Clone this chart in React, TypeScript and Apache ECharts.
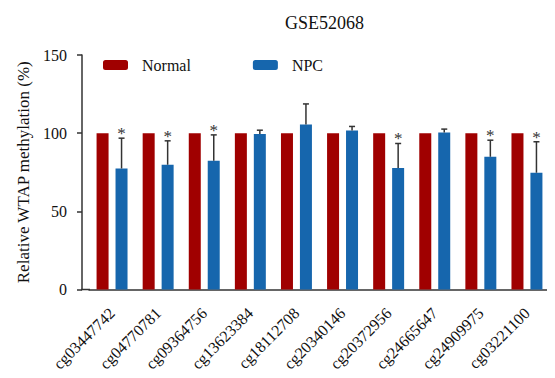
import React, { useEffect, useRef } from "react";
import * as echarts from "echarts";

const titleText = "GSE52068";
const yAxisName = "Relative WTAP methylation (%)";
const categories = [
  "cg03447742", "cg04770781", "cg09364756", "cg13623384", "cg18112708",
  "cg20340146", "cg20372956", "cg24665647", "cg24909975", "cg03221100",
];
const normalValues = [100, 100, 100, 100, 100, 100, 100, 100, 100, 100];
const npcValues = [77.4, 79.8, 82.3, 99.4, 105.5, 101.7, 77.7, 100.4, 84.9, 74.7];
const npcErrors = [19.4, 15.3, 16.6, 2.5, 13.2, 2.6, 15.7, 2.2, 10.6, 19.8];
const significance = ["*", "*", "*", "", "", "", "*", "", "*", "*"];
const yTicks = [0, 50, 100, 150];

const FONT = "Liberation Serif";
const RED = "#a00000";
const BLUE = "#1666ad";
const AXIS = "#333333";

export default function App() {
  const ref = useRef<HTMLDivElement>(null);
  useEffect(() => {
    if (!ref.current) return;
    const chart = echarts.init(ref.current, null, { renderer: "svg" });
    const errData = npcValues.map((v, i) => [i, v, npcErrors[i]]);
    chart.setOption({
      animation: false,
      backgroundColor: "#ffffff",
      textStyle: { fontFamily: FONT },
      title: {
        text: titleText,
        left: 280,
        top: 9,
        textStyle: { fontFamily: FONT, fontSize: 18, fontWeight: "normal", color: "#111" },
      },
      legend: {
        left: 103,
        top: 57,
        padding: 0,
        itemWidth: 25,
        itemHeight: 10,
        itemGap: 62,
        data: ["Normal", "NPC"],
        textStyle: { fontFamily: FONT, fontSize: 16, color: "#111", padding: [0, 0, 0, 9] },
      },
      grid: { left: 89, right: 5, top: 55, bottom: 88.5 },
      xAxis: {
        type: "category",
        data: categories,
        axisLine: { lineStyle: { color: AXIS, width: 1.5 } },
        axisTick: { alignWithLabel: true, length: 6, lineStyle: { color: AXIS, width: 1.5 } },
        axisLabel: {
          rotate: 45,
          margin: 21,
          fontSize: 16,
          fontFamily: FONT,
          color: "#111",
          padding: [15, 0, 0, 0],
        },
      },
      yAxis: {
        type: "value",
        min: 0,
        max: 150,
        interval: 50,
        offset: 7,
        name: yAxisName,
        nameLocation: "middle",
        nameRotate: 90,
        nameGap: 50,
        nameTextStyle: { fontFamily: FONT, fontSize: 17, color: "#111" },
        splitLine: { show: false },
        axisLine: { show: true, lineStyle: { color: AXIS, width: 1.5 } },
        axisTick: { show: true, length: 5, lineStyle: { color: AXIS, width: 1.5 } },
        axisLabel: {
          margin: 15,
          fontSize: 16,
          fontFamily: FONT,
          color: "#111",
          formatter: (v: number) => (yTicks.includes(v) ? String(v) : ""),
        },
      },
      graphic: [
        {
          type: "line",
          shape: { x1: 81, y1: 289.5, x2: 90, y2: 289.5 },
          style: { stroke: AXIS, lineWidth: 1.5 },
        },
      ],
      series: [
        {
          name: "Normal",
          type: "bar",
          data: normalValues,
          barWidth: 12,
          barGap: "58%",
          itemStyle: { color: RED },
        },
        {
          name: "NPC",
          type: "bar",
          data: npcValues,
          barWidth: 12,
          itemStyle: { color: BLUE },
        },
        {
          name: "NPC-err",
          type: "custom",
          data: errData,
          encode: { x: 0, y: 1 },
          z: 5,
          renderItem: (params: any, api: any) => {
            const idx = api.value(0);
            const v = api.value(1);
            const e = api.value(2);
            const base = api.coord([idx, v]);
            const top = api.coord([idx, v + e]);
            const x = base[0] + 9.5;
            const children: any[] = [
              {
                type: "line",
                shape: { x1: x, y1: base[1], x2: x, y2: top[1] },
                style: { stroke: AXIS, lineWidth: 1.5 },
              },
              {
                type: "line",
                shape: { x1: x - 3, y1: top[1], x2: x + 3, y2: top[1] },
                style: { stroke: AXIS, lineWidth: 1.5 },
              },
            ];
            const s = significance[params.dataIndex];
            if (s) {
              children.push({
                type: "text",
                x: x,
                y: top[1] + 4,
                style: {
                  text: s,
                  fontFamily: FONT,
                  fontSize: 17,
                  fill: "#333",
                  align: "center",
                  verticalAlign: "bottom",
                },
              });
            }
            return { type: "group", children };
          },
        },
      ],
    });
    return () => chart.dispose();
  }, []);
  return <div ref={ref} style={{ width: 555, height: 378, margin: -8 }} />;
}
